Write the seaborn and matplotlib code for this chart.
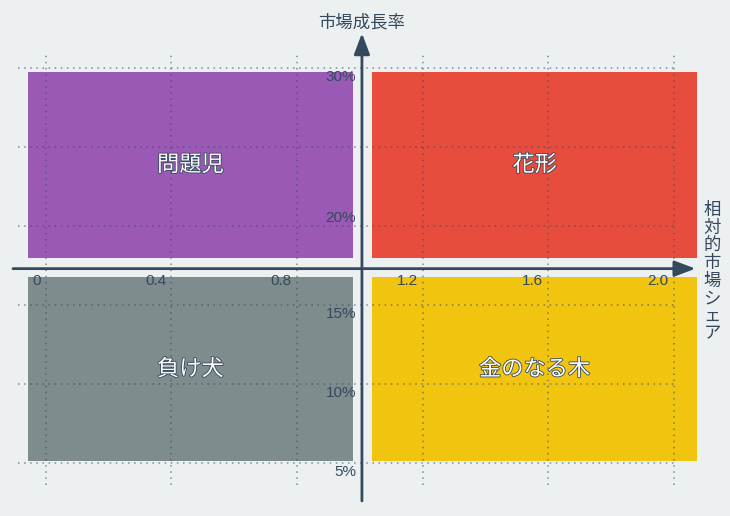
import matplotlib
matplotlib.use("Agg")
import matplotlib.patheffects as pe
import seaborn as sns
from matplotlib import pyplot as plt
from matplotlib.patches import Rectangle

# quadrant data (relative share range, growth range in %)
quadrant_names = ["問題児", "花形", "負け犬", "金のなる木"]
quadrant_colors = ["#9B59B6", "#E74C3C", "#7F8C8D", "#F1C40F"]
share_low = [-0.057, 1.04, -0.057, 1.04]
share_high = [0.978, 2.075, 0.978, 2.075]
growth_low = [18.0, 18.0, 5.1, 5.1]
growth_high = [29.75, 29.75, 16.8, 16.8]

x_ticks = [0, 0.4, 0.8, 1.2, 1.6, 2.0]
x_tick_labels = ["0", "0.4", "0.8", "1.2", "1.6", "2.0"]
y_ticks = [5, 10, 15, 20, 25, 30]
y_tick_labels = ["5%", "10%", "15%", "20%", "", "30%"]

cross_x = 1.007
cross_y = 17.3

x_title = "相対的市場シェア"
y_title = "市場成長率"

BG = "#ECF0F1"
INK = "#34495E"


def main():
    sns.set_theme(style="white")
    plt.rcParams["font.family"] = ["Liberation Sans", "Noto Sans CJK JP", "DejaVu Sans"]

    fig = plt.figure(figsize=(7.3, 5.16), dpi=100, facecolor=BG)
    ax = fig.add_axes([18 / 730, 1 - 485 / 516, 659 / 730, 430 / 516])
    ax.set_facecolor(BG)
    ax.set_xlim(-0.089, 2.011)
    ax.set_ylim(3.608, 30.82)

    for name, col, x0, x1, y0, y1 in zip(quadrant_names, quadrant_colors,
                                         share_low, share_high,
                                         growth_low, growth_high):
        ax.add_patch(Rectangle((x0, y0), x1 - x0, y1 - y0, facecolor=col,
                               edgecolor="none", zorder=1, clip_on=False))
        ax.text((x0 + x1) / 2, (y0 + y1) / 2, name, color="white",
                fontsize=16, ha="center", va="center", zorder=5,
                family=["Noto Sans CJK JP", "DejaVu Sans"],
                path_effects=[pe.withStroke(linewidth=1.2, foreground=INK)])

    ax.set_xticks(x_ticks)
    ax.set_yticks(y_ticks)
    ax.tick_params(length=0, labelbottom=False, labelleft=False)
    ax.set_axisbelow(False)
    ax.grid(True, color=INK, alpha=0.6, lw=1.1, ls=(0, (1, 3)), zorder=2)
    sns.despine(ax=ax, left=True, bottom=True)

    # axes with arrow heads through the crossing point
    arrow = dict(arrowstyle="-|>,head_length=0.85,head_width=0.32",
                 mutation_scale=15, lw=2, color=INK, shrinkA=0, shrinkB=0)
    ax.annotate("", xy=(2.07, cross_y), xytext=(-0.105, cross_y),
                arrowprops=arrow, annotation_clip=False, zorder=4)
    ax.annotate("", xy=(cross_x, 32.2), xytext=(cross_x, 2.6),
                arrowprops=arrow, annotation_clip=False, zorder=4)

    for v, lab in zip(x_ticks, x_tick_labels):
        ax.annotate(lab, xy=(v, cross_y), xytext=(-5, -5),
                    textcoords="offset pixels", ha="right", va="top",
                    fontsize=11, color=INK, zorder=6)
    for v, lab in zip(y_ticks, y_tick_labels):
        above = lab == "20%"
        ax.annotate(lab, xy=(cross_x, v), xytext=(-6, 1 if above else -2),
                    textcoords="offset pixels", ha="right",
                    va="bottom" if above else "top",
                    fontsize=11, color=INK, zorder=6)

    ax.text(cross_x, 32.85, y_title, ha="center", va="center", fontsize=12.5,
            color=INK, family=["Noto Sans CJK JP", "DejaVu Sans"])
    ax.text(2.123, 17.1, "\n".join(x_title), ha="center", va="center",
            fontsize=12.5, color=INK, linespacing=0.97,
            family=["Noto Sans CJK JP", "DejaVu Sans"])

    fig.savefig("out.png", dpi=100, facecolor=BG)


if __name__ == "__main__":
    main()
